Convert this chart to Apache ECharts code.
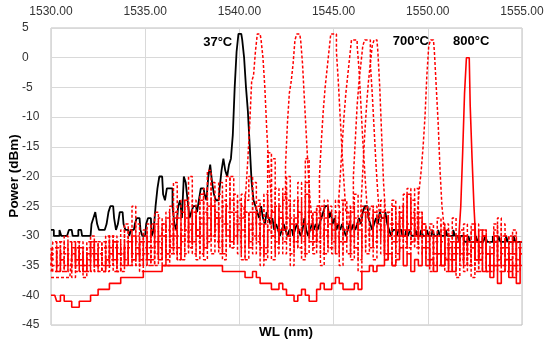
<!DOCTYPE html>
<html><head><meta charset="utf-8">
<script src="https://cdn.jsdelivr.net/npm/echarts@6/dist/echarts.min.js"></script>
<style>html,body{margin:0;padding:0;background:#fff}#c{width:550px;height:345px}</style>
</head><body><div id="c"></div>
<script>
// ---------- data ----------
const wlMin = 1530, wlMax = 1555;
const noiseStep = 0.2;   // nm between noise samples
const fineStep = 0.1;    // nm between fine samples

// 37 °C (black), 1530.0 .. 1555.0 every 0.1 nm
const black37 = [
-29,-29,-30,-30,-30,-29,-30,-30,-30,-30,
-29,-29,-30,-30,-30,-29,-29,-30,-30,-30,
-30,-30,-28,-27,-26,-28,-29,-29,-29,-29,
-28,-26,-25,-25,-27,-29,-28,-26,-26,-28,
-29,-29,-30,-29,-29,-28,-27,-27,-29,-30,
-30,-28,-27,-27,-30,-29,-25,-22,-20,-20,
-23,-24,-22,-22,-22,-25,-28,-29,-25,-24,
-27,-20,-21,-24,-27,-26,-25,-25,-26,-24,
-22,-22,-23,-24,-20,-18,-21,-23,-24,-24,
-22,-19,-17,-19,-20,-18,-17,-13,-5,1,
4,4,3,0,-5,-9,-15,-21,-24,-25,
-26,-27,-25,-27,-28,-26,-27,-28,-27,-29,
-28,-29,-30,-29,-28,-29,-30,-29,-29,-30,
-29,-28,-29,-30,-29,-27,-29,-30,-29,-28,
-29,-28,-29,-28,-27,-26,-25,-25,-27,-26,
-28,-27,-29,-28,-29,-28,-29,-30,-29,-28,
-29,-28,-29,-28,-27,-28,-26,-25,-25,-27,
-28,-29,-28,-27,-28,-26,-27,-27,-26,-28,
-29,-30,-29,-29,-30,-29,-29,-30,-30,-29,
-30,-29,-30,-30,-29,-30,-30,-29,-30,-30,
-29,-30,-30,-29,-30,-30,-29,-30,-30,-30,
-29,-30,-30,-30,-29,-30,-30,-31,-30,-30,
-31,-31,-30,-31,-31,-31,-30,-31,-31,-31,
-31,-30,-31,-31,-31,-30,-31,-31,-30,-31,
-31,-31,-30,-31,-31,-31,-30,-31,-31,-31,
-31];

// dashed red spectra: noise floor every 0.2 nm from 1530.0, plus peak every 0.1 nm
const d1Noise = [
-37,-37,-37,-37,-37,-37,-33,-31,-34,-36,-32,-30,-33,-35,-31,-34,-30,-32,-36,-33,-31,-29,-33,-35,-31,
-30,-33,-28,-31,-34,-29,-26,-30,-33,-27,-24,-29,-32,-26,-30,-23,-28,-31,-25,-29,-21,-27,-30,-24,-26,
-28,-25,-29,-22,-27,-30,-26,-24,-29,-31,-25,-28,-22,-27,-30,-24,-29,-33,-26,-28,-31,-25,-30,-27,-32,
-29,-26,-31,-24,-28,-33,-27,-30,-25,-29,-32,-26,-30,-28,-34,-27,-31,-29,-25,-30,-33,-28,-31,-26,-29,
-31,-28,-33,-30,-35,-29,-32,-34,-30,-33,-36,-31,-29,-34,-32,-30,-35,-33,-31,-36,-32,-34,-30,-33,-35,-32];
const d1PeakStart = 1540.3;
const d1Peak = [-27,-22,-17,-11,-4,-3,1,4,4,3,0,-5,-12,-18,-22,-26];

const d2Noise = [
-34,-31,-35,-33,-30,-36,-32,-34,-31,-35,-33,-36,-31,-34,-32,-30,-35,-31,-33,-29,-34,-32,-25,-31,-34,
-32,-28,-31,-35,-27,-30,-33,-25,-29,-32,-28,-24,-31,-26,-29,-33,-22,-27,-30,-26,-31,-24,-28,-32,-27,
-24,-30,-26,-32,-28,-25,-30,-23,-27,-17,-29,-25,-31,-27,-23,-29,-26,-32,-24,-28,-30,-26,-33,-28,-25,
-30,-27,-33,-29,-25,-31,-28,-34,-26,-30,-27,-32,-29,-24,-31,-28,-33,-26,-30,-29,-23,-31,-27,-32,-28,
-33,-29,-35,-31,-28,-34,-30,-36,-32,-29,-34,-31,-35,-28,-33,-30,-36,-32,-29,-35,-31,-33,-36,-30,-34,-33];
const d2PeakStart = 1542.4;
const d2Peak = [-24,-18,-11,-6,-4,-1,3,4,4,3,-1,-7,-13,-19,-24,-27];

const d3Noise = [
-33,-36,-32,-34,-35,-31,-33,-36,-34,-32,-35,-31,-34,-33,-36,-32,-30,-34,-31,-35,-28,-33,-30,-32,-35,
-29,-34,-30,-26,-32,-28,-33,-30,-21,-27,-31,-29,-20,-26,-30,-24,-28,-19,-25,-29,-23,-28,-20,-26,-30,
-27,-23,-30,-26,-21,-28,-32,-24,-27,-30,-22,-26,-29,-25,-31,-27,-24,-28,-21,-30,-26,-23,-29,-25,-28,
-27,-31,-28,-20,-26,-30,-23,-29,-32,-26,-30,-25,-28,-33,-27,-29,-24,-31,-27,-30,-22,-28,-32,-26,-29,
-30,-34,-31,-27,-33,-29,-35,-32,-30,-34,-28,-33,-31,-36,-29,-33,-31,-35,-28,-34,-32,-30,-35,-33,-31,-34];
const d3PeakStart = 1544.2;
const d3Peak = [-26,-20,-14,-9,-5,-2,1,4,4,4,1,-4,-10,-16,-21,-26];

const d4Noise = [
-35,-33,-31,-34,-36,-33,-35,-32,-36,-34,-31,-33,-35,-32,-34,-36,-33,-31,-34,-32,-35,-30,-34,-33,-31,
-33,-30,-34,-28,-31,-35,-29,-32,-26,-30,-34,-27,-31,-24,-29,-33,-26,-30,-21,-28,-32,-25,-29,-31,-23,
-29,-32,-24,-20,-30,-26,-33,-28,-16,-25,-31,-27,-29,-24,-33,-28,-26,-31,-23,-29,-32,-27,-25,-30,-28,
-32,-24,-29,-26,-31,-20,-27,-33,-28,-30,-25,-31,-27,-29,-34,-26,-30,-28,-32,-25,-29,-31,-27,-33,-30,
-32,-35,-30,-33,-29,-36,-31,-34,-32,-35,-30,-33,-37,-31,-34,-29,-33,-36,-30,-32,-35,-31,-34,-37,-32,-35];
const d4PeakStart = 1545.3;
const d4Peak = [-25,-20,-15,-10,-6,-3,0,3,3,3,2,-2,-8,-14,-19,-24,-27];

const d5Noise = [
-32,-34,-36,-31,-33,-35,-34,-32,-35,-37,-33,-31,-34,-36,-32,-35,-33,-30,-36,-34,-32,-35,-31,-28,-33,
-35,-31,-29,-33,-30,-28,-34,-31,-27,-33,-29,-25,-32,-28,-31,-27,-34,-29,-24,-31,-27,-33,-25,-20,-29,
-31,-27,-34,-29,-26,-31,-28,-34,-25,-30,-33,-27,-31,-20,-28,-32,-26,-30,-17,-27,-31,-25,-29,-33,-26,
-31,-28,-24,-30,-33,-27,-29,-22,-30,-26,-32,-28,-31,-26,-33,-29,-25,-30,-27,-32,-28,-24,-30,-27,-31,
-34,-30,-32,-35,-31,-28,-33,-36,-31,-34,-30,-35,-32,-29,-34,-31,-36,-33,-30,-35,-28,-32,-34,-31,-36,-33];
const d5PeakStart = 1546.0;
const d5Peak = [-26,-20,-14,-8,-4,-1,2,3,3,3,-1,-6,-12,-18,-23,-27];

const d6Noise = [
-36,-35,-33,-36,-32,-34,-31,-35,-33,-36,-34,-32,-36,-33,-35,-31,-34,-36,-32,-33,-35,-31,-34,-30,-36,
-31,-35,-32,-29,-34,-31,-27,-33,-30,-34,-26,-31,-28,-33,-27,-30,-32,-25,-30,-27,-33,-29,-26,-31,-28,
-33,-29,-26,-31,-27,-24,-30,-33,-28,-26,-32,-29,-23,-30,-27,-31,-21,-28,-33,-26,-29,-31,-27,-24,-30,
-28,-33,-26,-31,-29,-25,-32,-28,-30,-27,-33,-26,-29,-31,-25,-30,-28,-33,-26,-31,-29,-27,-22,-30,-28,
-32,-36,-33,-30,-35,-32,-34,-31,-37,-33,-30,-35,-32,-34,-36,-30,-33,-35,-31,-34,-30,-36,-33,-31,-35,-31];
const d6PeakStart = 1546.5;
const d6Peak = [-25,-19,-13,-8,-4,-1,2,3,3,1,-5,-13,-21,-26];

const d7Noise = [
-35,-32,-36,-34,-33,-35,-37,-34,-32,-35,-36,-33,-35,-31,-36,-34,-32,-35,-33,-36,-32,-34,-35,-32,-34,
-34,-32,-35,-31,-33,-30,-35,-28,-32,-34,-30,-33,-29,-31,-34,-28,-32,-30,-33,-27,-31,-34,-29,-32,-30,
-30,-34,-31,-28,-33,-30,-35,-32,-29,-34,-31,-27,-33,-30,-35,-29,-32,-34,-28,-31,-33,-30,-35,-29,-32,
-33,-30,-35,-31,-28,-34,-32,-36,-30,-33,-29,-34,-31,-27,-33,-30,-35,-31,-28,-23,-32,-26,-30,-22,-28,
-31,-29,-33,-30,-28,-34,-31,-27,-33,-30,-35,-32,-28,-34,-31,-29,-33,-36,-30,-27,-33,-35,-31,-29,-34,-32];
const d7PeakStart = 1549.5;
const d7Peak = [-26,-22,-19,-15,-10,-3,2,3,3,1,-5,-11,-19,-25,-28];

// 800 °C (solid red)
const s8Noise = [
-40,-40,-41,-40,-41,-41,-42,-42,-41,-41,-41,-40,-40,-39,-39,-39,-38,-38,-38,-37,-37,-37,-37,-37,-37,
-36,-36,-36,-36,-36,-35,-35,-35,-35,-35,-35,-35,-35,-35,-35,-35,-35,-35,-35,-35,-35,-36,-36,-36,-36,
-36,-36,-37,-37,-36,-37,-38,-38,-38,-39,-39,-38,-39,-40,-40,-41,-40,-39,-40,-41,-41,-39,-38,-39,-39,
-38,-37,-38,-39,-39,-39,-38,-39,-36,-36,-35,-36,-35,-35,-34,-33,-35,-34,-32,-35,-33,-36,-34,-35,-32,
-35,-34,-36,-33,-35,-34,-36,-33,-31,-25,-6,0,-17,-31,-34,-36,-33,-37,-35,-38,-36,-34,-37,-35,-38,-33];
const s8PeakStart = 1551.7;
const s8Peak = [-30,-25,-16,-6,0,0,-8,-17,-25,-31];

const seriesNames = ['37°C','100°C','200°C','300°C','400°C','500°C','600°C','700°C','800°C'];
const annTexts = ['37°C','700°C','800°C'];
const annWl = [1538.85, 1549.1, 1552.3];
const annDb = [2.6, 2.8, 2.8];

// ---------- build ----------
function finePts(vals, start){ return vals.map((v,i)=>[+(start+i*fineStep).toFixed(2), v]); }
function merged(noise, peak, pStart){
  const pEnd = pStart + (peak.length-1)*fineStep;
  const pts = [];
  noise.forEach((v,i)=>{ const w = +(wlMin+i*noiseStep).toFixed(2);
    if (w < pStart-1e-6 || w > pEnd+1e-6) pts.push([w,v]); });
  return pts.concat(finePts(peak,pStart)).sort((a,b)=>a[0]-b[0]);
}
const FONT = "'Liberation Sans', Arial, sans-serif";
const dashed = {color:'#ff0000', width:1.5, type:[3,2]};
function ln(name, data, style, z){
  return {name, type:'line', data, step:'middle', showSymbol:false, symbol:'none',
    lineStyle:style, z, silent:true, animation:false};
}
const series = [
  ln(seriesNames[0], finePts(black37, wlMin), {color:'#000', width:1.8}, 2),
  ln(seriesNames[1], merged(d1Noise,d1Peak,d1PeakStart), dashed, 3),
  ln(seriesNames[2], merged(d2Noise,d2Peak,d2PeakStart), dashed, 3),
  ln(seriesNames[3], merged(d3Noise,d3Peak,d3PeakStart), dashed, 3),
  ln(seriesNames[4], merged(d4Noise,d4Peak,d4PeakStart), dashed, 3),
  ln(seriesNames[5], merged(d5Noise,d5Peak,d5PeakStart), dashed, 3),
  ln(seriesNames[6], merged(d6Noise,d6Peak,d6PeakStart), dashed, 3),
  ln(seriesNames[7], merged(d7Noise,d7Peak,d7PeakStart), dashed, 3),
  ln(seriesNames[8], merged(s8Noise,s8Peak,s8PeakStart), {color:'#ff0000', width:1.6}, 4)
];

const chart = echarts.init(document.getElementById('c'), null, {renderer:'canvas'});
chart.setOption({
  animation:false,
  backgroundColor:'#fff',
  grid:{left:51, right:28, top:28, bottom:20, show:true, borderColor:'#bfbfbf', borderWidth:1, backgroundColor:'transparent'},
  xAxis:{type:'value', position:'top', min:wlMin, max:wlMax, interval:5,
    axisLine:{show:false}, axisTick:{show:false},
    splitLine:{show:true, lineStyle:{color:'#d9d9d9', width:1}},
    axisLabel:{margin:10, color:'#333', fontSize:12, fontFamily:FONT, formatter:v=>v.toFixed(2)}},
  yAxis:{type:'value', min:-45, max:5, interval:5,
    axisLine:{show:false}, axisTick:{show:false},
    splitLine:{show:true, lineStyle:{color:'#d9d9d9', width:1}},
    axisLabel:{margin:29, align:'left', color:'#333', fontSize:12, fontFamily:FONT}},
  series
});

const g = [
  {type:'text', x:286, y:332, style:{text:'WL (nm)', font:"bold 13.5px "+FONT, fill:'#000', align:'center', verticalAlign:'middle'}},
  {type:'text', x:14, y:176, rotation:Math.PI/2, style:{text:'Power (dBm)', font:"bold 13.5px "+FONT, fill:'#000', align:'center', verticalAlign:'middle'}}
];
annTexts.forEach((t,i)=>{
  const p = chart.convertToPixel({xAxisIndex:0, yAxisIndex:0}, [annWl[i], annDb[i]]);
  g.push({type:'text', x:p[0], y:p[1], z:100, style:{text:t, font:"bold 13px "+FONT, fill:'#000', align:'center', verticalAlign:'middle'}});
});
chart.setOption({graphic:g});
</script>
</body></html>
